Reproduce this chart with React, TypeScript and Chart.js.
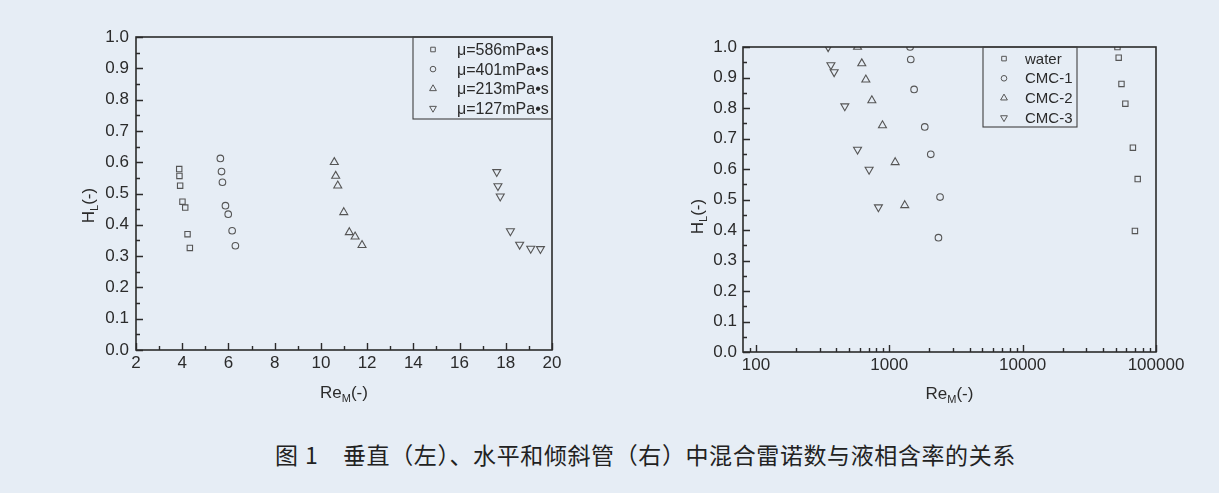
import { useEffect, useRef } from "react";
import { Chart, registerables } from "chart.js";

Chart.register(...registerables);

// left panel: vertical pipe, Re_M vs H_L
const RE_586 = [3.87, 3.88, 3.91, 4.01, 4.13, 4.23, 4.33];
const HL_586 = [0.578, 0.556, 0.525, 0.474, 0.455, 0.37, 0.326];
const RE_401 = [5.65, 5.7, 5.74, 5.87, 5.99, 6.16, 6.3];
const HL_401 = [0.612, 0.57, 0.536, 0.461, 0.434, 0.381, 0.333];
const RE_213 = [10.58, 10.64, 10.73, 10.99, 11.23, 11.48, 11.78];
const HL_213 = [0.6, 0.556, 0.525, 0.44, 0.376, 0.362, 0.335];
const RE_127 = [17.61, 17.66, 17.76, 18.2, 18.6, 19.08, 19.5];
const HL_127 = [0.569, 0.524, 0.491, 0.38, 0.337, 0.324, 0.323];
const LEFT_LABELS = ["μ=586mPa•s", "μ=401mPa•s", "μ=213mPa•s", "μ=127mPa•s"];

// right panel: horizontal / inclined pipe (log x)
const RE_WATER = [51400, 52500, 55100, 58900, 67100, 72900, 69500];
const HL_WATER = [1.0, 0.965, 0.879, 0.814, 0.67, 0.567, 0.397];
const RE_CMC1 = [1432, 1449, 1535, 1845, 2047, 2403, 2337];
const HL_CMC1 = [1.0, 0.959, 0.861, 0.738, 0.648, 0.508, 0.375];
const RE_CMC2 = [578, 622, 667, 740, 889, 1107, 1306];
const HL_CMC2 = [1.0, 0.946, 0.893, 0.825, 0.743, 0.622, 0.481];
const RE_CMC3 = [348, 365, 386, 464, 578, 706, 829];
const HL_CMC3 = [1.0, 0.941, 0.918, 0.806, 0.664, 0.598, 0.475];
const RIGHT_LABELS = ["water", "CMC-1", "CMC-2", "CMC-3"];

// axis ticks
const L_X_MAJOR = [2, 4, 6, 8, 10, 12, 14, 16, 18, 20];
const L_X_MINOR = [3, 5, 7, 9, 11, 13, 15, 17, 19];
const Y_MAJOR = [0, 0.1, 0.2, 0.3, 0.4, 0.5, 0.6, 0.7, 0.8, 0.9, 1.0];
const Y_MINOR = [0.05, 0.15, 0.25, 0.35, 0.45, 0.55, 0.65, 0.75, 0.85, 0.95];
const R_X_MAJOR = [100, 1000, 10000, 100000];
const R_X_MINOR = [
  90, 200, 300, 400, 500, 600, 700, 800, 900,
  2000, 3000, 4000, 5000, 6000, 7000, 8000, 9000,
  20000, 30000, 40000, 50000, 60000, 70000, 80000, 90000,
];

const SHAPES = ["rect", "circle", "up", "down"];
const RADII = [3.8, 3.3, 4.6, 4.6];

const INK = "#2b2b2b";
const MARK = "#555555";
const FONT = "'Liberation Sans', Arial, sans-serif";

function drawMarker(ctx: CanvasRenderingContext2D, shape: string, x: number, y: number, r: number) {
  ctx.beginPath();
  if (shape === "rect") {
    const h = r * Math.SQRT1_2;
    ctx.rect(x - h, y - h, 2 * h, 2 * h);
  } else if (shape === "circle") {
    ctx.arc(x, y, r, 0, Math.PI * 2);
  } else {
    const d = shape === "down" ? -1 : 1;
    ctx.moveTo(x, y - d * r);
    ctx.lineTo(x + r * 0.866, y + d * r * 0.5);
    ctx.lineTo(x - r * 0.866, y + d * r * 0.5);
    ctx.closePath();
  }
  ctx.stroke();
}

// text with a subscript in the middle: main, sub, tail
function drawSubText(ctx: CanvasRenderingContext2D, main: string, sub: string, tail: string, cx: number, base: number) {
  ctx.font = `17px ${FONT}`;
  const w1 = ctx.measureText(main).width;
  const w3 = ctx.measureText(tail).width;
  ctx.font = `11px ${FONT}`;
  const w2 = ctx.measureText(sub).width;
  let x = cx - (w1 + w2 + w3) / 2;
  ctx.textAlign = "left";
  ctx.textBaseline = "alphabetic";
  ctx.font = `17px ${FONT}`;
  ctx.fillText(main, x, base);
  x += w1;
  ctx.font = `11px ${FONT}`;
  ctx.fillText(sub, x, base + 4);
  x += w2;
  ctx.font = `17px ${FONT}`;
  ctx.fillText(tail, x, base);
}

type FrameCfg = {
  xMajor: number[];
  xMinor: number[];
  legend: { left: number; width: number; height: number; markX: number; textX: number; row0: number; rowGap: number; font: number; labels: string[] };
  xTitleBase: number;
  yTitleX: number;
  yTitleDy: number;
};

function originFrame(cfg: FrameCfg) {
  return {
    id: "originFrame",
    afterDatasetsDraw(chart: Chart) {
      const { ctx, chartArea: a } = chart;
      const xs = chart.scales.x;
      const ys = chart.scales.y;
      ctx.save();
      ctx.strokeStyle = INK;
      ctx.lineWidth = 1.4;
      ctx.beginPath();
      cfg.xMajor.forEach((v) => {
        const px = Math.round(xs.getPixelForValue(v)) + 0.5;
        ctx.moveTo(px, a.bottom);
        ctx.lineTo(px, a.bottom - 7);
      });
      cfg.xMinor.forEach((v) => {
        const px = Math.round(xs.getPixelForValue(v)) + 0.5;
        ctx.moveTo(px, a.bottom);
        ctx.lineTo(px, a.bottom - 4);
      });
      Y_MAJOR.forEach((v) => {
        const py = Math.round(ys.getPixelForValue(v)) + 0.5;
        ctx.moveTo(a.left, py);
        ctx.lineTo(a.left + 7, py);
      });
      Y_MINOR.forEach((v) => {
        const py = Math.round(ys.getPixelForValue(v)) + 0.5;
        ctx.moveTo(a.left, py);
        ctx.lineTo(a.left + 4, py);
      });
      ctx.stroke();

      ctx.lineWidth = 1.6;
      ctx.strokeRect(a.left, a.top, a.right - a.left, a.bottom - a.top);

      // legend box
      const lg = cfg.legend;
      const bx = a.left + lg.left;
      const by = a.top;
      ctx.lineWidth = 1.1;
      ctx.strokeStyle = "#404040";
      ctx.strokeRect(bx, by, lg.width, lg.height);
      lg.labels.forEach((label, i) => {
        const ry = by + lg.row0 + i * lg.rowGap;
        ctx.strokeStyle = MARK;
        ctx.lineWidth = 1;
        drawMarker(ctx, SHAPES[i], bx + lg.markX, ry, RADII[i] * 0.85);
        ctx.fillStyle = INK;
        ctx.font = `${lg.font}px ${FONT}`;
        ctx.textAlign = "left";
        ctx.textBaseline = "middle";
        ctx.fillText(label, bx + lg.textX, ry + 1);
      });

      // axis titles
      ctx.fillStyle = INK;
      drawSubText(ctx, "Re", "M", "(-)", (a.left + a.right) / 2, cfg.xTitleBase);
      ctx.save();
      ctx.translate(cfg.yTitleX, (a.top + a.bottom) / 2 + cfg.yTitleDy);
      ctx.rotate(-Math.PI / 2);
      drawSubText(ctx, "H", "L", "(-)", 0, 0);
      ctx.restore();

      ctx.restore();
    },
  };
}

function series(label: string, xs: number[], ys: number[], i: number) {
  return {
    label,
    data: xs.map((x, k) => ({ x, y: ys[k] })),
    pointStyle: SHAPES[i] === "rect" ? "rect" : SHAPES[i] === "circle" ? "circle" : "triangle",
    rotation: SHAPES[i] === "down" ? 180 : 0,
    pointRadius: RADII[i],
    pointBorderWidth: 1.1,
    pointBorderColor: MARK,
    pointBackgroundColor: "rgba(0,0,0,0)",
    showLine: false,
  };
}

const tickStyle = { color: INK, font: { size: 17, family: FONT } };

export default function App() {
  const leftRef = useRef<HTMLCanvasElement>(null);
  const rightRef = useRef<HTMLCanvasElement>(null);

  useEffect(() => {
    const charts: Chart[] = [];

    if (leftRef.current) {
      charts.push(new Chart(leftRef.current, {
        type: "scatter",
        data: {
          datasets: [
            series(LEFT_LABELS[0], RE_586, HL_586, 0),
            series(LEFT_LABELS[1], RE_401, HL_401, 1),
            series(LEFT_LABELS[2], RE_213, HL_213, 2),
            series(LEFT_LABELS[3], RE_127, HL_127, 3),
          ] as any,
        },
        options: {
          animation: false,
          responsive: false,
          layout: { padding: { left: 86, right: 48, top: 37, bottom: 30 } },
          plugins: { legend: { display: false }, tooltip: { enabled: false } },
          scales: {
            x: {
              type: "linear", min: 2, max: 20,
              afterFit: (s: any) => { s.height = 40; },
              grid: { display: false, drawTicks: false },
              border: { display: false },
              ticks: { ...tickStyle, stepSize: 2, padding: 3 },
            },
            y: {
              min: 0, max: 1,
              afterFit: (s: any) => { s.width = 50; },
              grid: { display: false, drawTicks: false },
              border: { display: false },
              ticks: { ...tickStyle, stepSize: 0.1, padding: 7, callback: (v: any) => Number(v).toFixed(1) },
            },
          },
        },
        plugins: [originFrame({
          xMajor: L_X_MAJOR, xMinor: L_X_MINOR,
          legend: { left: 277, width: 139, height: 82, markX: 20, textX: 44, row0: 12.5, rowGap: 19.6, font: 16, labels: LEFT_LABELS },
          xTitleBase: 398, yTitleX: 94, yTitleDy: 12,
        })],
      }));
    }

    if (rightRef.current) {
      charts.push(new Chart(rightRef.current, {
        type: "scatter",
        data: {
          datasets: [
            series(RIGHT_LABELS[0], RE_WATER, HL_WATER, 0),
            series(RIGHT_LABELS[1], RE_CMC1, HL_CMC1, 1),
            series(RIGHT_LABELS[2], RE_CMC2, HL_CMC2, 2),
            series(RIGHT_LABELS[3], RE_CMC3, HL_CMC3, 3),
          ] as any,
        },
        options: {
          animation: false,
          responsive: false,
          layout: { padding: { left: 93, right: 63, top: 47, bottom: 28 } },
          plugins: { legend: { display: false }, tooltip: { enabled: false } },
          scales: {
            x: {
              type: "logarithmic", min: 80, max: 100000,
              afterFit: (s: any) => { s.height = 40; },
              afterBuildTicks: (s: any) => { s.ticks = R_X_MAJOR.map((v) => ({ value: v })); },
              grid: { display: false, drawTicks: false },
              border: { display: false },
              ticks: { ...tickStyle, padding: 3, autoSkip: false, maxRotation: 0, callback: (v: any) => String(v) },
            },
            y: {
              min: 0, max: 1,
              afterFit: (s: any) => { s.width = 50; },
              grid: { display: false, drawTicks: false },
              border: { display: false },
              ticks: { ...tickStyle, stepSize: 0.1, padding: 6, callback: (v: any) => Number(v).toFixed(1) },
            },
          },
        },
        plugins: [originFrame({
          xMajor: R_X_MAJOR, xMinor: R_X_MINOR,
          legend: { left: 240, width: 94, height: 80, markX: 21, textX: 42, row0: 11.6, rowGap: 19.7, font: 15, labels: RIGHT_LABELS },
          xTitleBase: 399, yTitleX: 103, yTitleDy: 17,
        })],
      }));
    }

    return () => charts.forEach((c) => c.destroy());
  }, []);

  const cap = {
    position: "absolute" as const, top: 443, fontSize: 23, lineHeight: "23px", color: "#222",
    fontFamily: "'Noto Sans CJK SC', 'Noto Sans', sans-serif", whiteSpace: "nowrap" as const,
  };

  return (
    <div style={{ position: "absolute", left: 0, top: 0, width: 1219, height: 493, background: "#e6edf5", overflow: "hidden" }}>
      <canvas ref={leftRef} width={600} height={420} style={{ position: "absolute", left: 0, top: 0 }} />
      <canvas ref={rightRef} width={619} height={420} style={{ position: "absolute", left: 600, top: 0 }} />
      <span style={{ ...cap, left: 275 }}>图</span>
      <span style={{ ...cap, left: 305 }}>1</span>
      <span style={{ ...cap, left: 343, letterSpacing: "0.6px" }}>垂直（左）、水平和倾斜管（右）中混合雷诺数与液相含率的关系</span>
    </div>
  );
}
